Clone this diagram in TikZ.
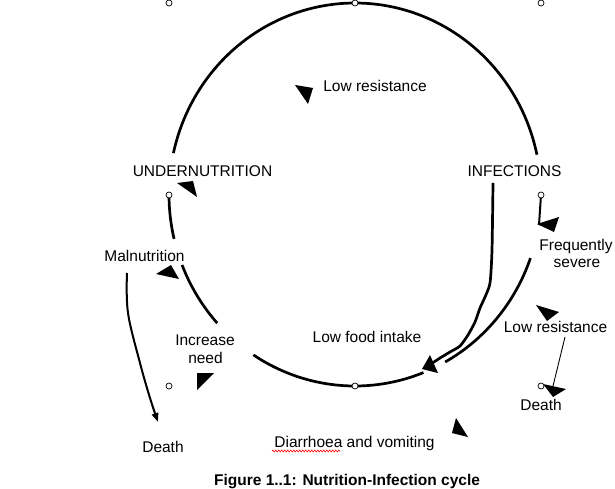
\documentclass[tikz,border=0pt]{standalone}
\usepackage{fontspec}
\setmainfont{Liberation Sans}
\usetikzlibrary{arrows.meta,decorations.pathmorphing}
\begin{document}
\begin{tikzpicture}[x=1pt,y=-1pt,
  lbl/.style={inner sep=0pt, anchor=base, font=\fontsize{15.5}{17}\selectfont},
  cyc/.style={line width=2.7pt},
  mid/.style={line width=2pt},
  handle/.style={draw=black, fill=white, line width=0.7pt},
]
\useasboundingbox[fill=white] (0,0) rectangle (615,489);

% cycle arcs (ellipse centre 355,194.5; radii 186, 191.5)
\draw[cyc] plot[domain=12:167.5, samples=90, variable=\t] ({355+186*cos(\t)},{194.5-191.5*sin(\t)});
\draw[cyc] plot[domain=180:193.4, samples=20, variable=\t] ({355+186*cos(\t)},{194.5-191.5*sin(\t)});
\draw[cyc] plot[domain=201.6:222.2, samples=25, variable=\t] ({355+186*cos(\t)},{194.5-191.5*sin(\t)});
\draw[cyc] plot[domain=236.9:291.6, samples=50, variable=\t] ({355+186*cos(\t)},{194.5-191.5*sin(\t)});
\draw[cyc] plot[domain=299:340.6, samples=40, variable=\t] ({355+186*cos(\t)},{194.5-191.5*sin(\t)});

% line from INFECTIONS to low food intake
\coordinate (j0) at (493,183);
\coordinate (j1) at (431,364);
\draw[cyc, line join=round] plot[smooth, tension=0.4] coordinates {(j0) (492,250) (490,283) (485,297) (480,308) (475,322) (468,335) (460,346) (450,352) (440,358) (j1)};
\fill (422,369) -- (430,355) -- (438,373) -- cycle;

% INFECTIONS -> Frequently severe
\coordinate (f0) at (541,195);
\coordinate (f1) at (539,225);
\draw[mid] (f0) -- (f1);
\fill (537,224) -- (559,217) -- (554,232) -- cycle;

% loose arrowheads
\fill (295,85) -- (313,88) -- (308,104) -- cycle;
\fill (177,183) -- (193,181) -- (197,197) -- cycle;
\fill (156,274) -- (171,265) -- (179,279) -- cycle;
\fill (197,373) -- (214,373) -- (197,390) -- cycle;
\fill (536,305) -- (559,312) -- (547,321) -- cycle;
\fill (452,433) -- (456,418) -- (468,437) -- cycle;
\fill (543,384) -- (566,389) -- (553,397) -- cycle;

% Malnutrition -> Death
\coordinate (m0) at (127,273);
\coordinate (m1) at (158,422);
\draw[mid, -{Triangle[length=9pt,width=6.5pt]}] plot[smooth, tension=0.6] coordinates {(m0) (128,313) (140,363) (150,398) (m1)};

% Low resistance -> Death (thin)
\coordinate (r0) at (565,337);
\coordinate (r1) at (553,386);
\draw[line width=0.9pt] (r0) -- (r1);

% selection handles
\foreach \p in {(169,3),(355,3),(541,3),(169,195),(541,195),(169,386),(355,386),(541,386)}
  \draw[handle] \p circle[radius=3pt];

% labels
\node[lbl] (lr1) at (375,92) {Low resistance};
\node[lbl] (und) at (202.5,176) {UNDERNUTRITION};
\node[lbl] (inf) at (514.5,176) {INFECTIONS};
\node[lbl] (mal) at (144.5,261) {Malnutrition};
\node[lbl] (freq) at (576,250) {Frequently};
\node[lbl] (sev) at (577,267) {severe};
\node[lbl] (lr2) at (555.5,332) {Low resistance};
\node[lbl] (d2) at (541,410) {Death};
\node[lbl] (lfi) at (367,342) {Low food intake};
\node[lbl] (inc) at (205,345) {Increase};
\node[lbl] (need) at (205.5,363) {need};
\node[lbl] (d1) at (163,452) {Death};
\node[lbl] (dia) at (354.5,447) {Diarrhoea and vomiting};
\draw[red, line width=0.6pt, decorate, decoration={zigzag, amplitude=0.9pt, segment length=3pt}] (272,451) -- (340,451);
\node[lbl, font=\fontsize{15.5}{17}\selectfont\bfseries] (cap) at (347,485) {Figure 1..1: Nutrition-Infection cycle};
\end{tikzpicture}
\end{document}
